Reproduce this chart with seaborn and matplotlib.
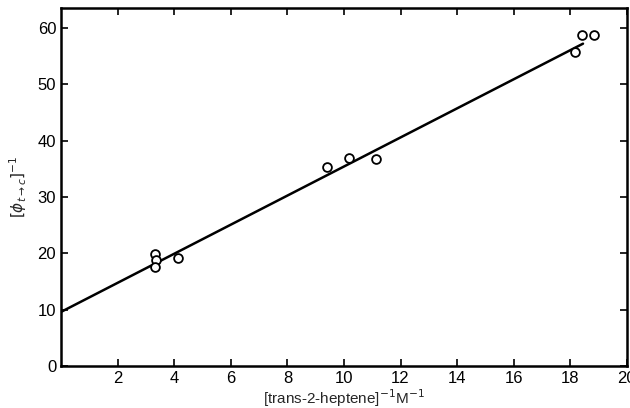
import matplotlib
matplotlib.use("Agg")
import matplotlib.pyplot as plt
import pandas as pd
import seaborn as sns

# data
heptene_inv = [3.31, 3.35, 3.31, 4.13, 9.41, 10.18, 11.12, 18.16, 18.42, 18.83]
phi_inv = [19.9, 18.8, 17.5, 19.2, 35.4, 36.9, 36.7, 55.8, 58.7, 58.8]
fit_x = [0.0, 18.45]
fit_y = [9.6, 57.2]
x_ticks = [2, 4, 6, 8, 10, 12, 14, 16, 18, 20]
y_ticks = [0, 10, 20, 30, 40, 50, 60]

sns.set_style("ticks")
plt.rcParams["font.family"] = ["Liberation Sans", "DejaVu Sans"]

pts = pd.DataFrame({"x": heptene_inv, "y": phi_inv})
fit = pd.DataFrame({"x": fit_x, "y": fit_y})

fig = plt.figure(figsize=(6.3, 4.08), dpi=100)
ax = fig.add_axes([0.097, 0.103, 0.898, 0.877])

sns.lineplot(data=fit, x="x", y="y", ax=ax, color="black", linewidth=1.8)
sns.scatterplot(data=pts, x="x", y="y", ax=ax, marker="o", s=40,
                facecolor="white", edgecolor="black", linewidth=1.3, zorder=3)

ax.set_xlim(0, 20)
ax.set_ylim(0, 63.5)
ax.set_xticks(x_ticks)
ax.set_yticks(y_ticks)
ax.tick_params(direction="in", top=True, right=True, length=5, width=1.2,
               labelsize=12, colors="black")
for side in ax.spines.values():
    side.set_linewidth(1.8)
    side.set_color("black")

ax.set_xlabel(r"[trans-2-heptene]$^{-1}$M$^{-1}$", fontsize=11, labelpad=1)
ax.set_ylabel(r"$[\phi_{t\rightarrow c}]^{-1}$", fontsize=11, labelpad=6)

fig.savefig("out.png", dpi=100)
